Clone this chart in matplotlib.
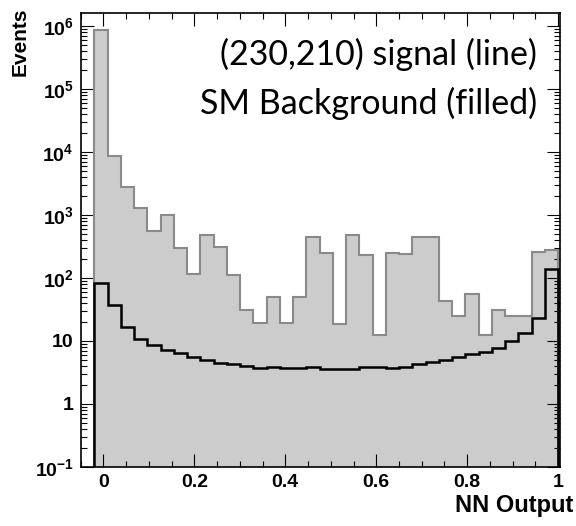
import numpy as np
import matplotlib
matplotlib.use("Agg")
import matplotlib.pyplot as plt
from matplotlib.ticker import LogLocator, MultipleLocator, NullFormatter

plt.rcParams['font.family'] = ['Liberation Sans', 'DejaVu Sans']
plt.rcParams['mathtext.fontset'] = 'custom'
plt.rcParams['mathtext.rm'] = 'Liberation Sans'
plt.rcParams['mathtext.bf'] = 'Liberation Sans:bold'

# 35 bins of NN output, from -0.02 to 1.0
bin_lo = -0.02
bin_hi = 1.0
n_bins = 35

# SM background (filled histogram)
background = [8.7e5, 8650, 2750, 1280, 563, 980, 296, 115, 480, 307,
              112, 31, 19, 50, 19, 50, 453, 251, 18.7, 480,
              232, 12.4, 245, 240, 446, 453, 43.6, 25, 55.7, 12.4,
              31, 25, 25, 261, 278]

# (230,210) signal (line)
signal = [84, 37.7, 16.5, 10.8, 8.7, 7.2, 6.5, 5.6, 4.93, 4.5,
          4.27, 4.06, 3.68, 3.91, 3.72, 3.72, 3.82, 3.6, 3.6, 3.6,
          3.82, 3.91, 3.68, 3.91, 4.36, 4.7, 4.99, 5.5, 6.2, 6.7,
          7.8, 9.9, 13.3, 23.5, 139]

x_ticks = [0, 0.2, 0.4, 0.6, 0.8, 1.0]
x_labels = ['0', '0.2', '0.4', '0.6', '0.8', '1']
y_ticks = [1e-1, 1, 10, 1e2, 1e3, 1e4, 1e5, 1e6]
y_labels = [r'$\mathbf{10^{-1}}$', '1', '10', r'$\mathbf{10^{2}}$', r'$\mathbf{10^{3}}$',
            r'$\mathbf{10^{4}}$', r'$\mathbf{10^{5}}$', r'$\mathbf{10^{6}}$']

edges = np.linspace(bin_lo, bin_hi, n_bins + 1)

fig = plt.figure(figsize=(5.76, 5.26), dpi=100)
ax = fig.add_axes([0.140, 0.1122, 0.8314, 0.8625])

# background: grey fill + darker grey outline
ax.stairs(background, edges, fill=True, color='#cccccc', baseline=1e-3, zorder=1)
ax.stairs(background, edges, color='#8a8a8a', linewidth=1.5, baseline=1e-3, zorder=2)
# signal: black line
ax.stairs(signal, edges, color='black', linewidth=1.8, baseline=1e-3, zorder=3)

ax.set_yscale('log')
ax.set_xlim(-0.05, 1.003)
ax.set_ylim(0.1, 10**6.2)

ax.set_xticks(x_ticks, x_labels)
ax.xaxis.set_minor_locator(MultipleLocator(0.05))
ax.set_yticks(y_ticks, y_labels)
ax.yaxis.set_minor_locator(LogLocator(base=10, subs=np.arange(2, 10)))
ax.yaxis.set_minor_formatter(NullFormatter())

ax.tick_params(which='both', direction='in', top=True, right=True, width=0.8)
ax.tick_params(which='major', length=9.5, labelsize=14, pad=5)
ax.tick_params(which='minor', length=4.3)
for lab in ax.get_xticklabels() + ax.get_yticklabels():
    lab.set_fontweight('bold')
for sp in ax.spines.values():
    sp.set_linewidth(1.2)
    sp.set_zorder(5)

fig.text(0.035, 0.985, 'Events', rotation=90, ha='center', va='top',
         fontsize=15, fontweight='bold')
fig.text(0.995, 0.018, 'NN Output', ha='right', va='bottom',
         fontsize=17, fontweight='bold')

ax.text(0.953, 0.886, '(230,210) signal (line)', transform=ax.transAxes,
        ha='right', va='baseline', fontsize=24.5, family=['Lato', 'DejaVu Sans'])
ax.text(0.953, 0.778, 'SM Background (filled)', transform=ax.transAxes,
        ha='right', va='baseline', fontsize=24.5, family=['Lato', 'DejaVu Sans'])

fig.savefig('out.png', dpi=100)
